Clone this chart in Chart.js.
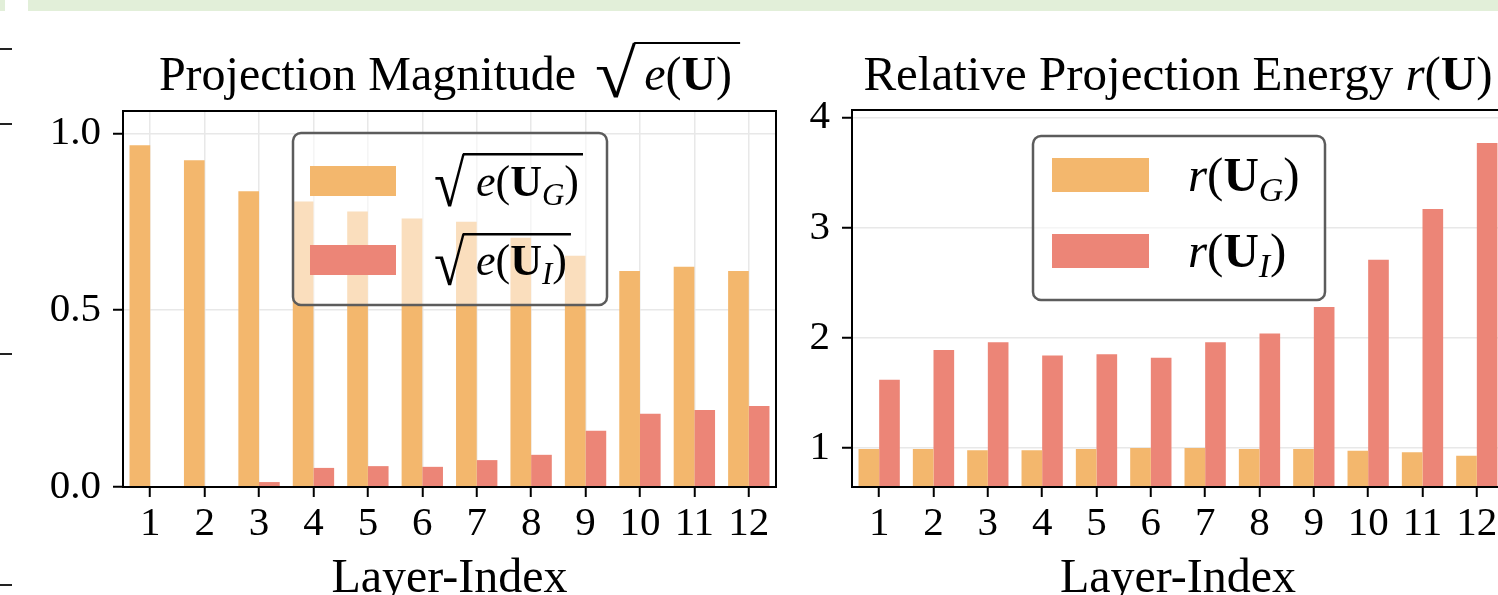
<!DOCTYPE html>
<html>
<head>
<meta charset="utf-8">
<script src="https://cdn.jsdelivr.net/npm/chart.js@4.4.1/dist/chart.umd.min.js"></script>
<style>
html, body { margin: 0; padding: 0; background: #fff; }
body { width: 1498px; height: 595px; overflow: hidden; position: relative; }
.band { position: absolute; top: 0; height: 11px; background: #e2efd9; }
.dash { position: absolute; left: 0; width: 12px; height: 2px; background: #222; }
#wrapL { position: absolute; left: 0; top: 0; }
#wrapR { position: absolute; left: 790px; top: 0; }
</style>
</head>
<body>
<div class="band" style="left:0;width:5px"></div>
<div class="band" style="left:28px;width:1470px"></div>
<div class="dash" style="top:48px"></div>
<div class="dash" style="top:123px"></div>
<div class="dash" style="top:353px"></div>
<div class="dash" style="top:584px"></div>
<div id="wrapL"><canvas id="magChart" width="800" height="595"></canvas></div>
<div id="wrapR"><canvas id="relChart" width="740" height="595"></canvas></div>
<script>
// DATA
const layers = ['1', '2', '3', '4', '5', '6', '7', '8', '9', '10', '11', '12'];
const magG = [0.966, 0.924, 0.836, 0.807, 0.779, 0.759, 0.750, 0.705, 0.654, 0.611, 0.623, 0.611];
const magI = [0.0, 0.0, 0.014, 0.054, 0.059, 0.057, 0.076, 0.091, 0.159, 0.207, 0.218, 0.229];
const relG = [0.99, 0.99, 0.98, 0.98, 0.99, 1.0, 1.0, 0.99, 0.99, 0.975, 0.96, 0.93];
const relI = [1.62, 1.89, 1.96, 1.84, 1.85, 1.82, 1.96, 2.04, 2.28, 2.71, 3.17, 3.77];
const magTicks = [0, 0.5, 1.0];
const relTicks = [1, 2, 3, 4];

const ORANGE = '#F3B76D';
const RED = '#EC8577';
const SERIF = '"Liberation Serif", "Times New Roman", serif';

// TEXT HELPERS
function setFont(ctx, r) {
    ctx.font = (r.style || 'normal') + ' ' + r.size + 'px ' + SERIF;
}
function runsWidth(ctx, runs) {
    let w = 0;
    runs.forEach(r => { setFont(ctx, r); w += ctx.measureText(r.t).width; });
    return w;
}
function drawRuns(ctx, x, y, runs) {
    runs.forEach(r => {
        setFont(ctx, r);
        ctx.fillText(r.t, x, y + (r.dy || 0));
        x += ctx.measureText(r.t).width;
    });
    return x;
}
// radical sign, stretched to a box, plus its overline
function drawRadical(ctx, x, top, bottom, w, lineEnd, lw) {
    ctx.save();
    ctx.font = '60px ' + SERIF;
    const m = ctx.measureText('\u221A');
    const inkW = m.actualBoundingBoxLeft + m.actualBoundingBoxRight;
    const inkH = m.actualBoundingBoxAscent + m.actualBoundingBoxDescent;
    const sx = w / inkW, sy = (bottom - top) / inkH;
    ctx.translate(x + m.actualBoundingBoxLeft * sx, top + m.actualBoundingBoxAscent * sy);
    ctx.scale(sx, sy);
    ctx.fillText('\u221A', 0, 0);
    ctx.restore();
    ctx.save();
    ctx.strokeStyle = '#000';
    ctx.lineWidth = lw;
    ctx.beginPath();
    ctx.moveTo(x + w - 2, top + lw / 2);
    ctx.lineTo(lineEnd, top + lw / 2);
    ctx.stroke();
    ctx.restore();
}
function mathLabel(base, sub, size, fn) {
    const runs = [
        { t: fn, style: 'italic', size: size },
        { t: '(', size: size },
        { t: base, style: 'bold', size: size }
    ];
    if (sub) runs.push({ t: sub, style: 'italic', size: Math.round(size * 0.7), dy: Math.round(size * 0.21) });
    runs.push({ t: ')', size: size });
    return runs;
}

// PLUGIN: spines, titles, legend
const decor = {
    id: 'decor',
    afterDraw(chart) {
        const ctx = chart.ctx;
        const a = chart.chartArea;
        const cfg = chart.options.plugins.decor;
        ctx.save();
        // spines
        ctx.strokeStyle = '#000';
        ctx.lineWidth = 2;
        ctx.strokeRect(a.left, a.top, a.right - a.left, a.bottom - a.top);

        ctx.fillStyle = '#000';
        ctx.textBaseline = 'alphabetic';
        ctx.textAlign = 'left';
        const cx = (a.left + a.right) / 2;

        // axis title
        const xt = [{ t: 'Layer-Index', size: 48 }];
        drawRuns(ctx, cx - runsWidth(ctx, xt) / 2, 592, xt);

        // title
        const t = cfg.title;
        if (t.radical) {
            const head = [{ t: t.text, size: 48 }];
            const tail = mathLabel('U', null, 48, t.fn);
            const total = runsWidth(ctx, head) + 8 + 40 + 8 + runsWidth(ctx, tail) + 8;
            let x = cx - total / 2;
            x = drawRuns(ctx, x, 90, head) + 8;
            const rx = x;
            x += 48;
            const end = drawRuns(ctx, x, 90, tail);
            drawRadical(ctx, rx, 42, 98, 40, end + 8, 2);
        } else {
            const runs = [{ t: t.text, size: 49 }].concat(mathLabel('U', null, 49, t.fn));
            drawRuns(ctx, cx - runsWidth(ctx, runs) / 2, 90, runs);
        }

        // legend
        const L = cfg.legend;
        ctx.beginPath();
        ctx.roundRect(L.x, L.y, L.w, L.h, 8);
        ctx.fillStyle = 'rgba(255,255,255,0.55)';
        ctx.fill();
        ctx.strokeStyle = '#5c5c5c';
        ctx.lineWidth = 2.5;
        ctx.stroke();
        chart.data.datasets.forEach((ds, k) => {
            const row = L.rows[k];
            ctx.fillStyle = ds.backgroundColor;
            ctx.fillRect(L.sx, row.sy, L.sw, L.sh);
            ctx.fillStyle = '#000';
            const runs = mathLabel('U', ds.label, L.size, L.fn);
            if (L.radical) {
                const end = drawRuns(ctx, L.tx, row.base, runs);
                drawRadical(ctx, L.rx, row.rtop, row.rbot, 30, end + 4, 2.5);
            } else {
                drawRuns(ctx, L.tx, row.base, runs);
            }
        });
        ctx.restore();
    }
};

function makeChart(id, g, i, yMin, yMax, yTicks, fmt, yw, xGrid, decorCfg, padRight) {
    const tickFont = { family: SERIF, size: 41 };
    return new Chart(document.getElementById(id), {
        type: 'bar',
        data: {
            labels: layers,
            datasets: [
                { label: 'G', data: g, backgroundColor: ORANGE, borderWidth: 0 },
                { label: 'I', data: i, backgroundColor: RED, borderWidth: 0 }
            ]
        },
        options: {
            responsive: false,
            animation: false,
            layout: { padding: { left: 0, top: decorCfg.top, right: padRight, bottom: 0 } },
            datasets: { bar: { categoryPercentage: 0.76, barPercentage: 1.0 } },
            plugins: {
                legend: { display: false },
                tooltip: { enabled: false },
                decor: decorCfg
            },
            scales: {
                x: {
                    offset: true,
                    grid: {
                        offset: false,
                        drawOnChartArea: xGrid,
                        color: '#e8e8e8',
                        lineWidth: 1.5,
                        tickColor: '#000',
                        tickLength: 10,
                        tickWidth: 2
                    },
                    border: { display: false },
                    ticks: { color: '#000', font: tickFont, padding: 3, maxRotation: 0, autoSkip: false },
                    afterFit: s => { s.height = 108; }
                },
                y: {
                    min: yMin,
                    max: yMax,
                    grid: {
                        color: '#e8e8e8',
                        lineWidth: 1.5,
                        tickColor: '#000',
                        tickLength: 10,
                        tickWidth: 2
                    },
                    border: { display: false },
                    ticks: { color: '#000', font: tickFont, padding: 12, callback: fmt },
                    afterBuildTicks: s => { s.ticks = yTicks.map(v => ({ value: v })); },
                    afterFit: s => { s.width = yw; }
                }
            }
        },
        plugins: [decor]
    });
}

makeChart('magChart', magG, magI, 0, 1.063, magTicks, v => v.toFixed(1), 123, true, {
    top: 111,
    title: { text: 'Projection Magnitude ', fn: 'e', radical: true },
    legend: {
        x: 293, y: 133, w: 314, h: 172,
        sx: 310, sw: 86, sh: 30,
        tx: 476, rx: 435, size: 44, fn: 'e', radical: true,
        rows: [
            { sy: 166, base: 196, rtop: 153, rbot: 207 },
            { sy: 245, base: 275, rtop: 233, rbot: 286 }
        ]
    }
}, 24);

makeChart('relChart', relG, relI, 0.645, 4.07, relTicks, v => String(v), 62, false, {
    top: 110,
    title: { text: 'Relative Projection Energy ', fn: 'r', radical: false },
    legend: {
        x: 243, y: 136, w: 292, h: 164,
        sx: 262, sw: 97, sh: 34,
        tx: 398, size: 49, fn: 'r', radical: false,
        rows: [
            { sy: 158, base: 191 },
            { sy: 234, base: 267 }
        ]
    }
}, 26);
</script>
</body>
</html>
